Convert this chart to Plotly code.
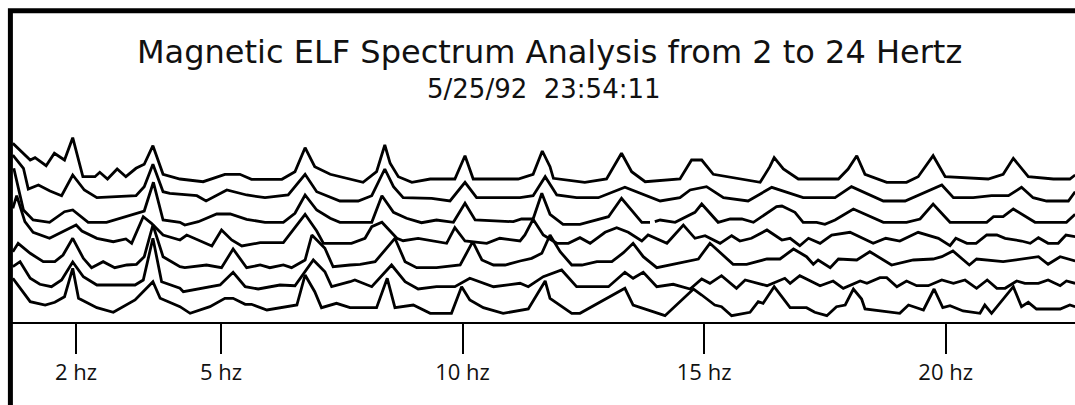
import plotly.graph_objects as go

# Frequency (Hz) and amplitude values for the seven stacked spectra, top to bottom
freq_1 = [0.69,1.05,1.15,1.38,1.55,1.76,1.93,2.14,2.39,2.49,2.65,2.85,3.03,3.24,3.41,3.59,3.80,4.15,4.63,5.08,
          5.39,5.63,6.26,6.53,6.74,6.94,7.26,7.46,7.94,8.22,8.39,8.50,8.67,8.95,9.33,9.84,10.05,10.22,11.15,11.46,
          11.65,11.81,11.88,12.53,12.98,13.29,13.50,13.78,14.50,14.74,14.95,15.19,16.16,16.36,16.45,16.64,16.95,17.78,17.98,18.16,
          18.33,18.78,19.19,19.43,19.74,19.99,20.36,20.88,21.19,21.40,21.71,22.23,22.57,22.68]
amp_1 = [46.7,30,32.3,24.3,36.7,30,52.3,13.3,13.3,17.7,11,21,13.3,21.7,25.7,44.3,15.7,11,8.3,15.7,
         15.7,10.7,10.7,18.3,42.3,23.3,15.7,13.3,7.7,18.3,45,26.7,13.3,7.7,11,11,34.3,11,11,15.7,
         39,23.3,11.7,7.7,11,36.7,18.3,8.3,11,30,30,15.7,7.7,23.3,32.3,21,11,11,21,34.3,
         15.7,7.7,7.7,13.3,34.3,13.3,12.3,11,15.7,31.7,13.3,11,11,15]

freq_2 = [0.69,0.91,1.01,1.22,1.46,1.70,1.93,2.17,2.43,3.24,3.41,3.59,3.80,3.94,4.50,4.69,5.12,5.53,5.91,6.39,
          6.74,6.98,7.46,7.84,8.12,8.39,8.57,8.77,9.36,9.74,10.05,10.29,11.19,11.46,11.71,11.95,12.36,12.81,13.36,14.09,
          14.50,14.71,15.05,15.40,15.91,16.40,17.05,17.71,18.05,18.71,19.16,19.92,20.16,20.57,20.95,21.30,21.57,21.81,22.09,22.54,
          22.68]
amp_2 = [57,43.7,23,27,21,16.3,37,22,14.3,16.3,25.3,47.7,20.3,18.7,16.3,11,22,17,14.3,17,
         37.7,20.3,11,11,16.3,43,25.3,14.3,13.7,11,29.7,14.3,14.3,16.3,35.3,17,14.3,14.3,24.7,11,
         14.3,22,25.3,14.3,11,24.7,14.3,14.3,25.3,11,11,27,14.3,14.3,16.3,16.3,24.7,14.3,11,11,
         20.3]

freq_3 = [0.71,0.91,1.11,1.45,1.76,1.93,2.25,2.63,3.41,3.60,3.80,4.15,4.25,4.53,4.91,5.19,5.53,5.91,6.29,6.53,
          6.74,6.98,7.26,7.46,8.12,8.33,8.57,8.84,9.15,9.46,9.81,10.05,10.26,11.05,11.22,11.46,11.64,11.81,12.08,12.43,
          13.02,13.29,13.71,13.88,13.93,13.98,14.09,14.40,14.50,14.81,14.95,15.29,15.54,15.78,16.02,16.50,16.61,16.88,17.05,17.33,
          17.50,17.71,18.09,18.71,19.19,19.47,19.74,20.09,20.85,20.99,21.19,21.40,21.85,22.50,22.68]
amp_3 = [65.7,24,14,11.7,22.3,24,11.7,11.7,23,51.7,14,11.7,9,12.3,20,20,14.7,11.7,11.7,20.7,
         39,24,15.7,11.7,11.7,38.3,21.7,15.7,11.3,14,11.7,30.7,14,12.3,15,15,40.7,19.7,9.7,9.7,
         17.3,35.7,11.7,11.7,None,12.3,14,11.7,14,21.7,30,11.7,15,15,11.7,27.3,28,21.7,11.7,11.7,
         9.7,14,25,11.7,11.7,15,30,11.7,11.7,17.3,17.3,25,11.7,11.7,19.7]

freq_4 = [0.69,0.77,0.94,1.11,1.45,1.76,2.00,2.12,2.43,2.77,3.03,3.15,3.39,3.56,3.80,4.15,4.29,4.81,5.01,5.22,
          5.43,5.81,6.29,6.74,6.98,7.12,7.70,7.98,8.12,8.33,8.64,8.77,9.08,9.67,9.84,10.05,10.50,10.77,11.19,11.29,
          11.46,11.67,11.95,12.19,12.43,12.64,12.95,13.19,13.43,13.71,13.84,14.23,14.57,14.81,15.02,15.33,15.57,15.74,15.98,16.30,
          16.61,16.78,16.98,17.16,17.40,17.64,18.02,18.50,18.76,19.05,19.43,19.85,20.09,20.21,20.44,20.63,20.85,21.06,21.23,21.57,
          21.75,21.92,22.12,22.33,22.49,22.68]
amp_4 = [47.7,60.3,34.3,23.7,17.7,25,31,25,17.7,14.3,17,12.7,39.3,32.7,21,16,21,10,26,16,
         10,13.3,13.3,41.7,25,12.7,12.7,17.7,29.3,33.7,17.7,15.3,17.7,12.7,28.3,15,12.7,17.7,15,21,
         36.7,21,12.7,12.7,18.3,12.7,23.7,28.3,23.7,15,21,12.7,31,17.7,20.3,12.7,20.3,15,17.7,26,
         16,17.7,10.3,17.7,12.7,21,23.7,12.7,17.7,15,23.7,17.7,10.3,17.7,12.7,12.7,21,21,17.7,15,
         12.7,18.3,12.7,12.7,21,19.3]

freq_5 = [0.69,0.80,1.05,1.32,1.56,1.73,1.93,2.15,2.32,2.56,2.80,3.05,3.25,3.41,3.59,3.80,4.15,4.25,4.70,5.01,
          5.25,5.53,5.81,6.01,6.29,6.46,6.74,6.88,7.15,7.32,7.67,7.88,8.19,8.60,8.81,9.05,9.46,9.95,10.21,10.40,
          10.64,10.88,11.19,11.43,11.64,11.81,12.02,12.26,12.47,12.78,13.09,13.33,13.53,13.74,14.02,14.43,14.88,15.12,15.60,15.88,
          16.30,16.57,16.85,17.12,17.26,17.36,17.61,17.78,18.16,18.43,18.88,19.33,19.74,19.92,20.15,20.49,20.64,21.19,21.92,22.12,
          22.37,22.68]
amp_5 = [26.3,34.7,24.7,16.3,16.3,23,39.7,19.7,10.3,16.3,10.3,13,13.7,21.3,53,21.3,11.3,10.3,13,10.3,
         29,10.3,13,10.3,13,10.3,18,43,29.7,11.3,13,13.7,16.3,39.7,16.3,10.3,10.3,13,36.3,18,
         13,13,17,19.7,24.7,43,26.3,13,13,16.3,16.3,25.3,34.7,21.3,10.3,14.7,19,34.7,13.7,13.7,
         19,19,29,21.3,13.7,18,10.3,19,18,26.3,13,18,19,21.3,27,13,19,16.3,21.3,13.7,
         21.3,17]

freq_6 = [0.69,0.84,1.05,1.25,1.49,1.70,1.93,2.15,2.43,3.22,3.39,3.59,3.77,4.15,4.22,4.98,5.25,5.50,5.77,6.22,
          6.53,6.91,7.15,7.29,7.67,7.77,8.12,8.53,8.81,9.08,9.46,9.84,10.15,10.64,11.19,11.36,11.67,12.05,12.36,13.02,
          13.36,13.53,13.74,14.02,14.36,14.71,14.95,15.12,15.36,15.67,15.85,16.30,16.67,16.78,16.98,17.40,17.67,17.88,18.23,18.37,
          18.64,18.78,18.99,19.19,19.40,19.64,19.92,20.16,20.40,20.64,20.86,21.06,21.23,21.47,21.64,21.92,22.12,22.37,22.50,22.68]
amp_6 = [33.3,38.3,21.7,15.7,13.3,20,38,23.3,15,15,20,61.7,18.3,11.7,8.3,15,27.7,13.3,11,15,
         14.3,40,28.3,13.3,18.3,20,13.3,35,18.3,11,13.3,13.3,21.7,13.3,16.7,13.3,23.3,30,13.3,13.3,
         27.7,21.7,27.7,13.3,15.7,11,21,16.7,24.3,11.7,20,14.3,21.7,16.7,24.3,14.3,19,11.7,19,16.7,
         22.3,22.3,13.3,19,14.3,14.3,20,16.7,20,11.7,20,11.7,11.7,19,16.7,16.7,20,14.3,19,16.7]

freq_7 = [0.69,1.05,1.36,1.56,1.76,1.93,2.05,2.43,2.77,3.22,3.59,3.74,4.15,4.36,4.77,5.08,5.25,5.50,5.63,5.95,
          6.57,6.74,6.94,7.08,7.39,7.67,7.84,8.22,8.44,8.60,8.98,9.33,9.77,9.98,10.15,10.43,10.84,11.19,11.36,11.71,
          11.81,12.26,12.43,13.36,13.53,14.19,14.43,14.78,14.95,15.22,15.36,15.57,15.95,16.12,16.22,16.45,16.78,17.12,17.29,17.54,
          17.74,17.92,18.09,18.26,18.33,19.05,19.23,19.54,19.76,19.94,20.09,20.36,20.71,20.81,20.95,21.40,21.57,21.71,21.88,22.37,
          22.57,22.68]
amp_7 = [43.7,20.3,17,19.7,25.3,53.7,23.7,14.3,9.7,22,40.3,23.7,15.3,8.7,15.3,23.7,23.7,17.7,17.7,12,
         17,47,30.3,14.3,18.7,14.3,14.3,14.3,43.7,14.3,17,8.7,8.7,35.3,22,14.3,8.7,12,13,41,
         23.7,8.7,8.7,33.7,17,6.3,17,33,27,17,15.3,6.3,9.7,20.3,18.7,35.3,14.3,14.3,9.7,6.3,
         15.3,17,33,23,13,8.7,17,12,33,14.3,16.3,11,8.7,17,8.7,35.3,15.3,19.7,13,13,
         17,15.3]

tick_freqs = [2, 5, 10, 15, 20]
tick_labels = ["2 hz", "5 hz", "10 hz", "15 hz", "20 hz"]

title_text = "Magnetic ELF Spectrum Analysis from 2 to 24 Hertz"
subtitle_text = "5/25/92\u00a0\u00a023:54:11"

series = [(freq_1, amp_1), (freq_2, amp_2), (freq_3, amp_3), (freq_4, amp_4),
          (freq_5, amp_5), (freq_6, amp_6), (freq_7, amp_7)]

W, H = 1075, 405
STEP = 22  # waterfall offset between successive spectra

fig = go.Figure()
n = len(series)
for i, (fx, ay) in enumerate(series):
    off = (n - 1 - i) * STEP
    yy = [None if v is None else v + off for v in ay]
    fig.add_trace(go.Scatter(x=fx, y=yy, mode="lines",
                             line=dict(color="black", width=2.8),
                             connectgaps=False, hoverinfo="skip", showlegend=False))

TFONT = "DejaVu Sans, Open Sans, sans-serif"
LFONT = "Open Sans, Noto Sans, sans-serif"

fig.update_layout(
    width=W, height=H,
    margin=dict(l=0, r=0, t=0, b=0),
    paper_bgcolor="white", plot_bgcolor="white",
    showlegend=False,
    xaxis=dict(domain=[12 / W, 1], range=[0.673, 22.677], showgrid=False, zeroline=False,
               showline=True, linecolor="black", linewidth=2,
               ticks="outside", ticklen=30, tickwidth=2, tickcolor="black",
               tickvals=tick_freqs, ticktext=tick_labels,
               tickfont=dict(family=LFONT, size=22, color="#111111")),
    yaxis=dict(domain=[1 - 322 / H, 1], range=[0, 322], visible=False),
    shapes=[
        dict(type="rect", xref="paper", yref="paper",
             x0=10.4 / W, x1=1.05, y0=1 - 10.8 / H, y1=-0.1,
             line=dict(color="black", width=5), fillcolor="rgba(0,0,0,0)", layer="above"),
    ],
    annotations=[
        dict(text=title_text, xref="paper", yref="paper", x=549 / W, y=1 - 52 / H,
             xanchor="center", yanchor="middle", showarrow=False,
             font=dict(family=TFONT, size=32, color="#111111")),
        dict(text=subtitle_text, xref="paper", yref="paper", x=544 / W, y=1 - 89 / H,
             xanchor="center", yanchor="middle", showarrow=False,
             font=dict(family=TFONT, size=26, color="#111111")),
    ],
)

fig.write_html("out.html")
